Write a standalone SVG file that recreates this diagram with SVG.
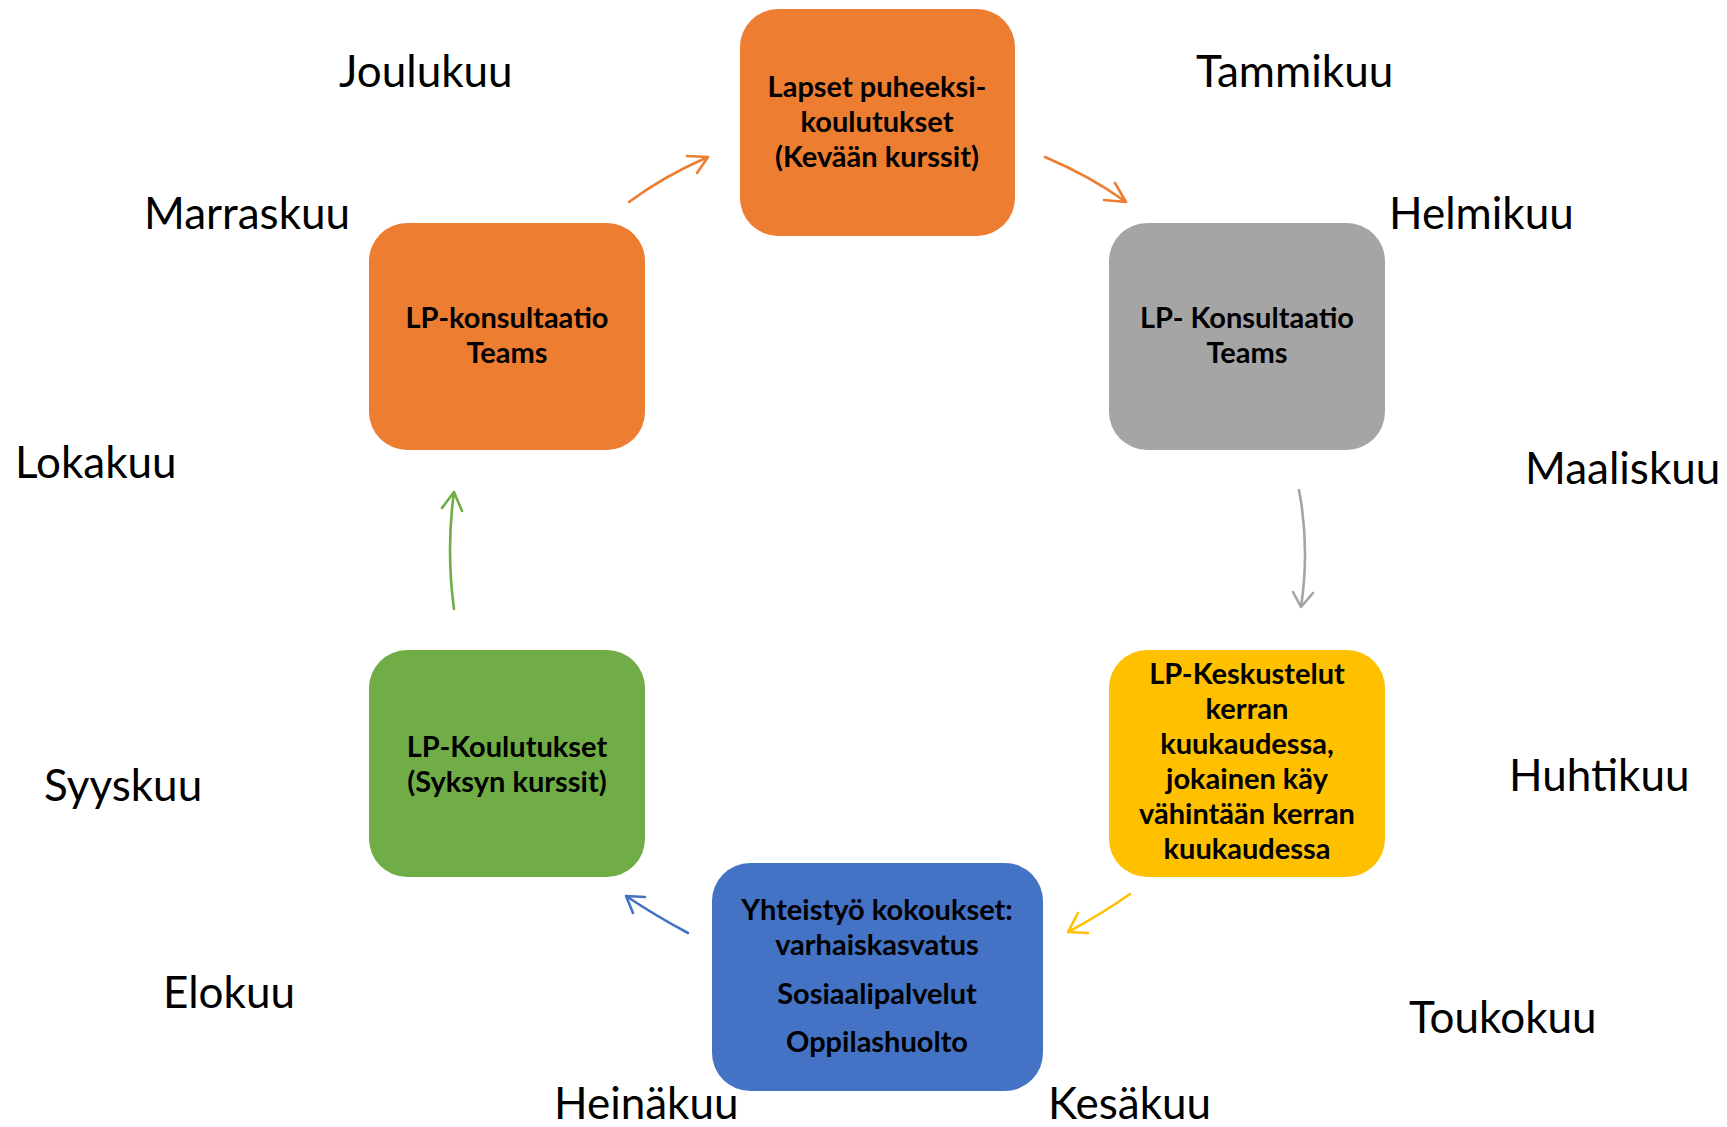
<svg xmlns="http://www.w3.org/2000/svg" width="1727" height="1127" viewBox="0 0 1727 1127">
<defs>
<style>
.box{stroke:none}
.bt{font-family:Lato,"Open Sans","Liberation Sans",sans-serif;font-weight:bold;font-size:29px;fill:#000;text-anchor:middle}
.mt{font-family:Lato,"Open Sans","Liberation Sans",sans-serif;font-size:44px;fill:#000}
.c{fill:none;stroke-width:2.6;stroke-linecap:round;stroke-linejoin:round}
</style>
</defs>
<rect width="1727" height="1127" fill="#fff"/>
<g id="months">
<text class="mt" x="339" y="87">Joulukuu</text>
<text class="mt" x="1196" y="87">Tammikuu</text>
<text class="mt" x="144" y="229">Marraskuu</text>
<text class="mt" x="1389" y="229">Helmikuu</text>
<text class="mt" x="15" y="478">Lokakuu</text>
<text class="mt" x="1525" y="484">Maaliskuu</text>
<text class="mt" x="44" y="801">Syyskuu</text>
<text class="mt" x="1509" y="791">Huhtikuu</text>
<text class="mt" x="163" y="1008">Elokuu</text>
<text class="mt" x="1409" y="1033">Toukokuu</text>
<text class="mt" x="554" y="1119">Heinäkuu</text>
<text class="mt" x="1048" y="1119">Kesäkuu</text>
</g>
<g id="node-lapset">
<rect class="box" x="740" y="9" width="275" height="227" rx="38" fill="#ED7D31"/>
<text class="bt" x="877" y="97">Lapset puheeksi-</text>
<text class="bt" x="877" y="132">koulutukset</text>
<text class="bt" x="877" y="167">(Kevään kurssit)</text>
</g>
<g id="node-konsultaatio-gray">
<rect class="box" x="1109" y="223" width="276" height="227" rx="38" fill="#A5A5A5"/>
<text class="bt" x="1247" y="328">LP- Konsultaatio</text>
<text class="bt" x="1247" y="363">Teams</text>
</g>
<g id="node-keskustelut">
<rect class="box" x="1109" y="650" width="276" height="227" rx="38" fill="#FFC000"/>
<text class="bt" x="1247" y="684">LP-Keskustelut</text>
<text class="bt" x="1247" y="719">kerran</text>
<text class="bt" x="1247" y="754">kuukaudessa,</text>
<text class="bt" x="1247" y="789">jokainen käy</text>
<text class="bt" x="1247" y="824">vähintään kerran</text>
<text class="bt" x="1247" y="859">kuukaudessa</text>
</g>
<g id="node-yhteistyo">
<rect class="box" x="712" y="863" width="331" height="228" rx="38" fill="#4472C4"/>
<text class="bt" x="877" y="920">Yhteistyö kokoukset:</text>
<text class="bt" x="877" y="955">varhaiskasvatus</text>
<text class="bt" x="877" y="1004">Sosiaalipalvelut</text>
<text class="bt" x="877" y="1052">Oppilashuolto</text>
</g>
<g id="node-koulutukset">
<rect class="box" x="369" y="650" width="276" height="227" rx="38" fill="#70AD47"/>
<text class="bt" x="507" y="757">LP-Koulutukset</text>
<text class="bt" x="507" y="792">(Syksyn kurssit)</text>
</g>
<g id="node-konsultaatio-orange">
<rect class="box" x="369" y="223" width="276" height="227" rx="38" fill="#ED7D31"/>
<text class="bt" x="507" y="328">LP-konsultaatio</text>
<text class="bt" x="507" y="363">Teams</text>
</g>
<g id="connectors">
<path class="c" stroke="#ED7D31" d="M629,202 Q664,176 708,157 M687,156 L708,157 L697,173"/>
<path class="c" stroke="#ED7D31" d="M1045,157 Q1090,176 1126,202 M1104,200 L1126,202 L1115,183"/>
<path class="c" stroke="#A5A5A5" d="M1299,490 Q1310,548 1301,607 M1293,592 L1301,607 L1313,593"/>
<path class="c" stroke="#FFC000" d="M1130,894 Q1100,915 1068,932 M1088,933 L1068,932 L1078,913"/>
<path class="c" stroke="#4472C4" d="M688,933 Q656,916 626,896 M645,897 L626,896 L633,913"/>
<path class="c" stroke="#70AD47" d="M454,609 Q446,550 454,492 M442,508 L454,492 L462,511"/>
</g>
</svg>
